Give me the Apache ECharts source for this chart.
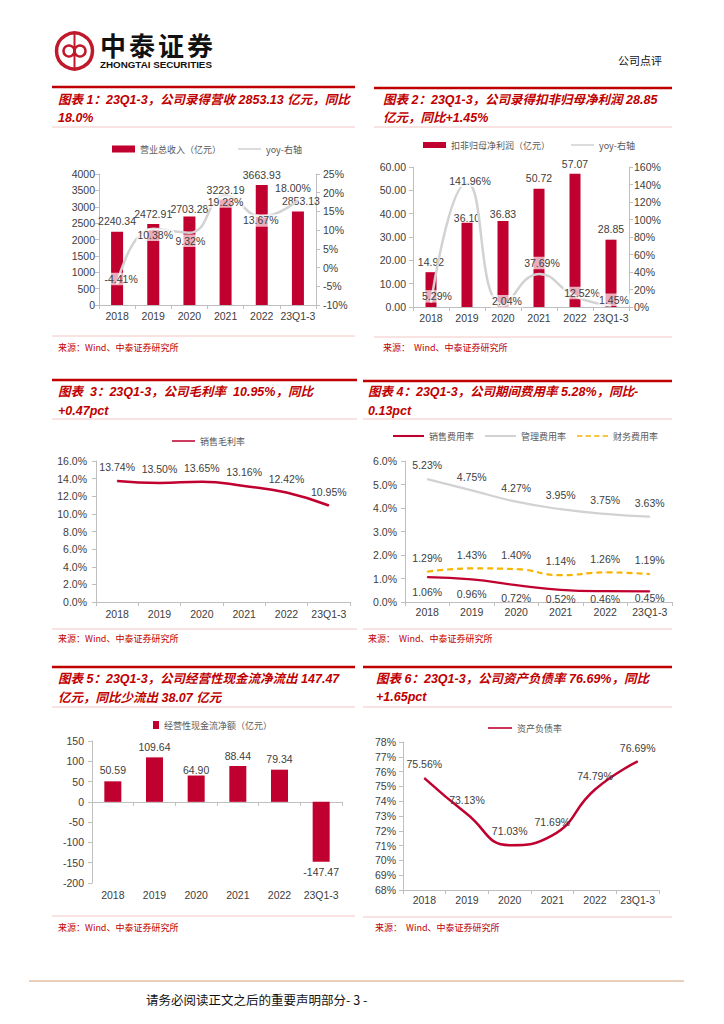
<!DOCTYPE html>
<html><head><meta charset="utf-8">
<script src="https://cdn.jsdelivr.net/npm/echarts@6/dist/echarts.min.js"></script>
<style>html,body{margin:0;padding:0;background:#fff}#c{width:724px;height:1024px}</style>
</head><body><div id="c"></div>
<script>
// ---------- data ----------
const cats = ['2018', '2019', '2020', '2021', '2022', '23Q1-3'];
const revenue = [2240.34, 2472.91, 2703.28, 3223.19, 3663.93, 2853.13];
const revenueYoy = [-4.41, 10.38, 9.32, 19.23, 13.67, 18.00];
const profit = [14.92, 36.10, 36.83, 50.72, 57.07, 28.85];
const profitYoy = [5.29, 141.96, 2.04, 37.69, 12.52, 1.45];
const grossMargin = [13.74, 13.50, 13.65, 13.16, 12.42, 10.95];
const sellRate = [1.06, 0.96, 0.72, 0.52, 0.46, 0.45];
const mgmtRate = [5.23, 4.75, 4.27, 3.95, 3.75, 3.63];
const finRate = [1.29, 1.43, 1.40, 1.14, 1.26, 1.19];
const opCash = [50.59, 109.64, 64.90, 88.44, 79.34, -147.47];
const debtRatio = [75.56, 73.13, 71.03, 71.69, 74.79, 76.69];

const titles = [
  ['图表 1：23Q1-3，公司录得营收 2853.13 亿元，同比', '18.0%'],
  ['图表 2：23Q1-3，公司录得扣非归母净利润 28.85', '亿元，同比+1.45%'],
  ['图表  3：23Q1-3，公司毛利率  10.95%，同比', '+0.47pct'],
  ['图表 4：23Q1-3，公司期间费用率 5.28%，同比-', '0.13pct'],
  ['图表 5：23Q1-3，公司经营性现金流净流出 147.47', '亿元，同比少流出 38.07 亿元'],
  ['图表 6：23Q1-3，公司资产负债率 76.69%，同比', '+1.65pct']
];
const sources = ['来源：Wind、中泰证券研究所', '来源：  Wind、中泰证券研究所', '来源：Wind、中泰证券研究所',
  '来源：  Wind、中泰证券研究所', '来源：Wind、中泰证券研究所', '来源：  Wind、中泰证券研究所'];

// ---------- styles / layout ----------
const RED = '#C00000';
const BAR = '#C0002F';
const LINE_RED = '#C0002F';
const GRAY_LINE = '#D2D2D2';
const YELLOW = '#F7B500';
const AX = '#BFBFBF';
const TXT = '#404040';
const LATIN = '"Liberation Sans", Arial, "Noto Sans CJK SC", sans-serif';
const CJK = '"Noto Sans CJK SC", sans-serif';

// panel frames: [x1, x2, topLine, title1, title2, thinLine, srcLine, srcText, titleX, srcX]
const panels = [
  [52, 355, 87, 100, 118, 127, 336, 347, 58, 58],
  [374, 672, 88, 100, 118, 127, 337, 347, 383, 383],
  [52, 357, 380, 392, 411, 419, 629, 638, 58, 58],
  [363, 672, 381, 392, 411, 419, 629, 638, 368, 368],
  [52, 355, 667, 679, 698, 707, 916, 927, 58, 58],
  [363, 672, 667, 679, 697, 707, 917, 927, 376, 375]
];

// label nudges (pixels)
const revBarOff = [[0, 0], [0, 0], [0, 3], [0, 1], [0, 0], [3, 0]];
const revYoyOff = [[4, -5], [2, 6], [1, 8], [0, 6], [-1, 4], [-5, -12]];
const profBarOff = [[0, 0], [0, 5], [0, 3], [0, 0], [0, 0], [0, 0]];
const profYoyOff = [[6, -6], [3, -2], [4, -4], [3, -11], [7, -3], [3, -6]];
const sellOff = [[0, 1], [0, 1], [0, -1], [0, -5], [0, -6], [0, -7]];
const cashOff = [[0, -1], [0, 0], [0, 5], [0, 0], [0, 0], [0, 0]];

const elements = [];
function txt(x, y, text, font, fill, align) {
  elements.push({ type: 'text', x: x, y: y, silent: true,
    style: { text: text, font: font, fill: fill, align: align || 'left', verticalAlign: 'middle' } });
}
function ln(x1, y1, x2, y2, color, w) {
  elements.push({ type: 'line', silent: true, shape: { x1: x1, y1: y1, x2: x2, y2: y2 },
    style: { stroke: color, lineWidth: w } });
}

// header
elements.push({ type: 'circle', silent: true, shape: { cx: 74.5, cy: 51, r: 18 }, style: { fill: 'none', stroke: '#C0192B', lineWidth: 3.5 } });
elements.push({ type: 'circle', silent: true, shape: { cx: 69, cy: 51, r: 5.5 }, style: { fill: 'none', stroke: '#C0192B', lineWidth: 2.5 } });
elements.push({ type: 'circle', silent: true, shape: { cx: 80, cy: 51, r: 5.5 }, style: { fill: 'none', stroke: '#C0192B', lineWidth: 2.5 } });
ln(74.5, 34, 74.5, 68, '#C0192B', 2);
const brand = '中泰证券';
for (let i = 0; i < brand.length; i++) {
  txt(100 + i * 29, 44, brand[i], 'bold 26px ' + CJK, '#111');
}
txt(100, 64.5, 'ZHONGTAI SECURITIES', 'bold 9.8px ' + LATIN, '#111');
txt(618, 60, '公司点评', '11px ' + CJK, '#111');

panels.forEach(function (p, i) {
  ln(p[0], p[2], p[1], p[2], RED, 2.5);
  txt(p[8], p[3], titles[i][0], 'italic bold 12.5px ' + LATIN, RED);
  txt(p[8], p[4], titles[i][1], 'italic bold 12.5px ' + LATIN, RED);
  ln(p[0], p[5], p[1], p[5], '#F2C6C6', 1);
  ln(p[0], p[6], p[1], p[6], '#F2C6C6', 1);
  txt(p[9], p[7], sources[i], '9px ' + CJK, RED);
});

// footer
ln(29, 981, 684, 981, '#E9CFBC', 2);
txt(146, 999, '请务必阅读正文之后的重要声明部分- 3 -', '12.5px ' + CJK, '#111');

// ---------- axes ----------
const grids = [
  { left: 99, top: 174, width: 217, height: 131 },
  { left: 413, top: 167, width: 216, height: 140 },
  { left: 96, top: 461, width: 254, height: 141 },
  { left: 405, top: 461, width: 267, height: 141 },
  { left: 92, top: 741, width: 250, height: 142 },
  { left: 403, top: 742, width: 256, height: 148 }
];

function catAxis(gi, margin, opts) {
  opts = opts || {};
  return {
    type: 'category', gridIndex: gi, data: cats, position: 'bottom',
    axisLine: { show: opts.line !== false, onZero: opts.onZero === true, lineStyle: { color: AX } },
    axisTick: { show: opts.tick !== false, length: 4, lineStyle: { color: AX } },
    axisLabel: { show: opts.label !== false, color: TXT, fontSize: 10.5, fontFamily: LATIN, margin: margin, interval: 0 },
    splitLine: { show: false }
  };
}
function valAxis(gi, pos, min, max, interval, fmt, margin) {
  return {
    type: 'value', gridIndex: gi, position: pos, min: min, max: max, interval: interval,
    axisLine: { show: true, onZero: false, lineStyle: { color: AX } },
    axisTick: { show: true, length: 4, lineStyle: { color: AX } },
    axisLabel: { color: TXT, fontSize: 10.5, fontFamily: LATIN, margin: margin, formatter: fmt },
    splitLine: { show: false }
  };
}
const pct0 = function (v) { return v + '%'; };
const pct1 = function (v) { return v.toFixed(1) + '%'; };
const fix2 = function (v) { return v.toFixed(2); };
const plain = function (v) { return String(v); };

const xAxis = [
  catAxis(0, 6), catAxis(1, 6), catAxis(2, 7), catAxis(3, 5),
  catAxis(4, 7, { label: false, onZero: true }),
  catAxis(4, 7, { line: false, tick: false }),
  catAxis(5, 5)
];
const yAxis = [
  valAxis(0, 'left', 0, 4000, 500, plain, 4),
  valAxis(0, 'right', -10, 25, 5, pct0, 7),
  valAxis(1, 'left', 0, 60, 10, fix2, 7),
  valAxis(1, 'right', 0, 160, 20, pct0, 5),
  valAxis(2, 'left', 0, 16, 2, pct1, 9),
  valAxis(3, 'left', 0, 6, 1, pct1, 8),
  valAxis(4, 'left', -200, 150, 50, plain, 8),
  valAxis(5, 'left', 68, 78, 1, pct0, 7)
];

// ---------- series ----------
const labelBase = { show: true, color: TXT, fontSize: 10.5, fontFamily: LATIN };
function withOffsets(values, offs, extraFn) {
  return values.map(function (v, i) {
    const item = { value: v, label: { offset: offs[i] } };
    if (extraFn) extraFn(item, v, i);
    return item;
  });
}
const fmtPct2 = function (p) { return p.value.toFixed(2) + '%'; };
const fmtNum2 = function (p) { return p.value.toFixed(2); };
const yoyLabel = Object.assign({}, labelBase, { position: 'inside', formatter: fmtPct2,
  backgroundColor: 'rgba(255,255,255,0.68)', padding: [1, 1, 1, 1] });

const series = [
  { name: '营业总收入（亿元）', type: 'bar', xAxisIndex: 0, yAxisIndex: 0, barWidth: 12,
    itemStyle: { color: BAR }, data: withOffsets(revenue, revBarOff),
    label: Object.assign({}, labelBase, { position: 'top', formatter: fmtNum2 }) },
  { name: 'yoy-右轴', type: 'line', xAxisIndex: 0, yAxisIndex: 1, smooth: 0.5,
    symbol: 'circle', symbolSize: 1, itemStyle: { color: GRAY_LINE },
    lineStyle: { color: GRAY_LINE, width: 2.5 }, data: withOffsets(revenueYoy, revYoyOff), label: yoyLabel },

  { name: '扣非归母净利润（亿元）', type: 'bar', xAxisIndex: 1, yAxisIndex: 2, barWidth: 11,
    itemStyle: { color: BAR }, data: withOffsets(profit, profBarOff),
    label: Object.assign({}, labelBase, { position: 'top', formatter: fmtNum2 }) },
  { name: 'yoy-右轴', type: 'line', xAxisIndex: 1, yAxisIndex: 3, smooth: 0.5,
    symbol: 'circle', symbolSize: 1, itemStyle: { color: GRAY_LINE },
    lineStyle: { color: GRAY_LINE, width: 2.5 }, data: withOffsets(profitYoy, profYoyOff), label: yoyLabel },

  { name: '销售毛利率', type: 'line', xAxisIndex: 2, yAxisIndex: 4, smooth: 0.5,
    symbol: 'circle', symbolSize: 1, itemStyle: { color: LINE_RED },
    lineStyle: { color: LINE_RED, width: 2.5 }, data: grossMargin,
    label: Object.assign({}, labelBase, { position: 'top', distance: 8, formatter: fmtPct2 }) },

  { name: '销售费用率', type: 'line', xAxisIndex: 3, yAxisIndex: 5, smooth: 0.5,
    symbol: 'circle', symbolSize: 1, itemStyle: { color: LINE_RED },
    lineStyle: { color: LINE_RED, width: 2.2 }, data: withOffsets(sellRate, sellOff),
    label: Object.assign({}, labelBase, { position: 'bottom', distance: 8, formatter: fmtPct2 }) },
  { name: '管理费用率', type: 'line', xAxisIndex: 3, yAxisIndex: 5, smooth: 0.5,
    symbol: 'circle', symbolSize: 1, itemStyle: { color: GRAY_LINE },
    lineStyle: { color: GRAY_LINE, width: 2.2 }, data: mgmtRate,
    label: Object.assign({}, labelBase, { position: 'top', distance: 8, formatter: fmtPct2 }) },
  { name: '财务费用率', type: 'line', xAxisIndex: 3, yAxisIndex: 5, smooth: 0.5,
    symbol: 'circle', symbolSize: 1, itemStyle: { color: YELLOW },
    lineStyle: { color: YELLOW, width: 2.2, type: [6, 4] }, data: finRate,
    label: Object.assign({}, labelBase, { position: 'top', distance: 8, formatter: fmtPct2 }) },

  { name: '经营性现金流净额（亿元）', type: 'bar', xAxisIndex: 4, yAxisIndex: 6, barWidth: 17,
    itemStyle: { color: BAR },
    data: withOffsets(opCash, cashOff, function (item, v) { if (v < 0) item.label.position = 'bottom'; }),
    label: Object.assign({}, labelBase, { position: 'top', formatter: fmtNum2 }) },

  { name: '资产负债率', type: 'line', xAxisIndex: 6, yAxisIndex: 7, smooth: 0.5,
    symbol: 'circle', symbolSize: 1, itemStyle: { color: LINE_RED },
    lineStyle: { color: LINE_RED, width: 2.5 }, data: debtRatio,
    label: Object.assign({}, labelBase, { position: 'top', distance: 8, formatter: fmtPct2 }) }
];

// ---------- legends ----------
const solidIcon = 'path://M0,0h24v1.6h-24z';
const dashIcon = 'path://M0,0h5v1.6h-5zM8,0h5v1.6h-5zM16,0h5v1.6h-5zM24,0h5v1.6h-5z';
const legTxt = { color: '#595959', fontSize: 9, fontFamily: CJK };
function legend(left, cy, w, h, gap, data) {
  return { left: left, top: cy - 6.5, itemWidth: w, itemHeight: h, itemGap: gap, padding: 0,
    selectedMode: false, textStyle: legTxt, data: data };
}
const legends = [
  legend(112, 151, 23, 7, 17, [{ name: '营业总收入（亿元）', icon: 'rect' }, { name: 'yoy-右轴', icon: solidIcon }]),
  legend(423, 147, 23, 6, 21, [{ name: '扣非归母净利润（亿元）', icon: 'rect' }, { name: 'yoy-右轴', icon: solidIcon }]),
  legend(172, 443, 23, 7, 10, [{ name: '销售毛利率', icon: solidIcon }]),
  legend(393, 438, 31, 7, 11, [{ name: '销售费用率', icon: solidIcon }, { name: '管理费用率', icon: solidIcon }, { name: '财务费用率', icon: dashIcon }]),
  legend(153, 727, 6, 8, 10, [{ name: '经营性现金流净额（亿元）', icon: 'rect' }]),
  legend(488, 730, 24, 7, 10, [{ name: '资产负债率', icon: solidIcon }])
];

const chart = echarts.init(document.getElementById('c'), null, { renderer: 'svg', width: 724, height: 1024 });
chart.setOption({
  backgroundColor: '#fff',
  animation: false,
  grid: grids,
  xAxis: xAxis,
  yAxis: yAxis,
  legend: legends,
  series: series,
  graphic: { elements: elements }
});
</script></body></html>
